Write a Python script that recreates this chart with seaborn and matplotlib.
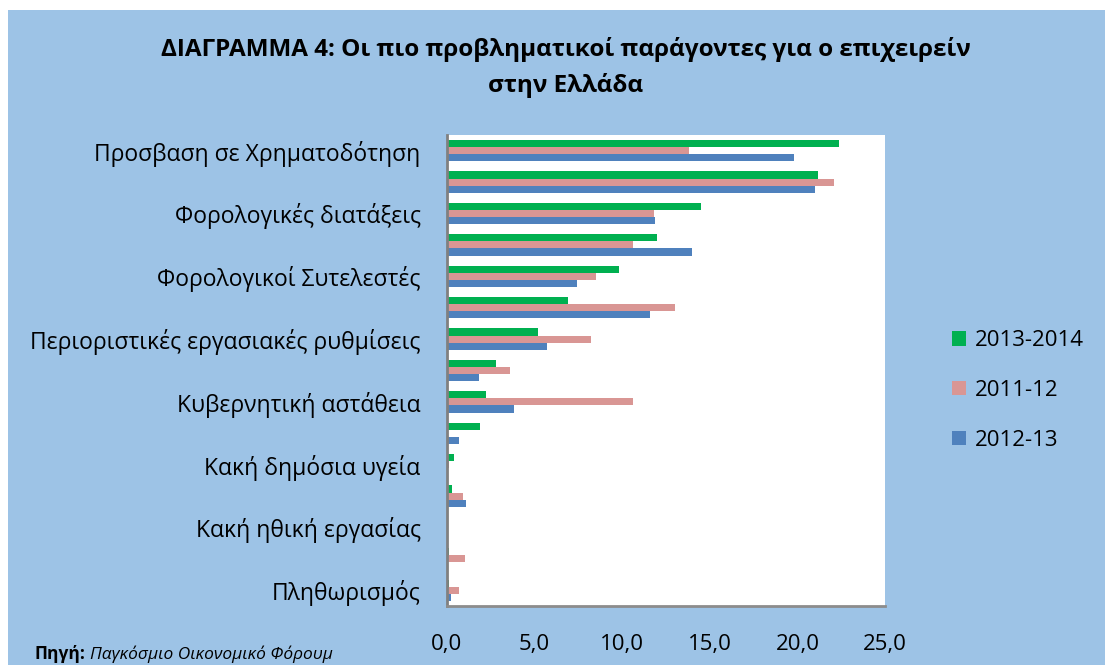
import pandas as pd
import matplotlib.pyplot as plt
import seaborn as sns
from matplotlib.patches import Rectangle

# 15 factors in the chart, only every other one has a label
factor_labels = [
    "Προσβαση σε Χρηματοδότηση",
    "Φορολογικές διατάξεις",
    "Φορολογικοί Συτελεστές",
    "Περιοριστικές εργασιακές ρυθμίσεις",
    "Κυβερνητική αστάθεια",
    "Κακή δημόσια υγεία",
    "Κακή ηθική εργασίας",
    "Πληθωρισμός",
]
factor_ids = list(range(15))

seasons = ["2013-2014", "2011-12", "2012-13"]
values_2013_14 = [22.4, 21.2, 14.5, 12.0, 9.8, 6.9, 5.2, 2.8, 2.2, 1.9, 0.4, 0.3, 0.0, 0.1, 0.1]
values_2011_12 = [13.8, 22.1, 11.8, 10.6, 8.5, 13.0, 8.2, 3.6, 10.6, 0.0, 0.1, 0.9, 0.0, 1.0, 0.7]
values_2012_13 = [19.8, 21.0, 11.9, 14.0, 7.4, 11.6, 5.7, 1.8, 3.8, 0.7, 0.0, 1.1, 0.0, 0.0, 0.2]

colors = ["#00B050", "#D99694", "#4F81BD"]
bg = "#9DC3E6"

# long format for seaborn
rows = []
for season, vals in zip(seasons, [values_2013_14, values_2011_12, values_2012_13]):
    for f, v in zip(factor_ids, vals):
        rows.append({"factor": str(f), "season": season, "value": v})
df = pd.DataFrame(rows)

sns.set_style("white")
plt.rcParams["font.family"] = ["Open Sans", "DejaVu Sans"]
plt.rcParams["text.color"] = "black"
plt.rcParams["xtick.color"] = "black"
plt.rcParams["ytick.color"] = "black"

fig = plt.figure(figsize=(11.05, 6.65), dpi=100)
fig.patch.set_facecolor("white")
fig.patches.append(Rectangle((8 / 1105, 0), 1, 1 - 10 / 665, transform=fig.transFigure,
                             facecolor=bg, edgecolor="none", zorder=-1))

ax = fig.add_axes([447 / 1105, 1 - 606 / 665, 438 / 1105, 471 / 665])
ax.set_facecolor("white")

sns.barplot(data=df, y="factor", x="value", hue="season", hue_order=seasons,
            order=[str(f) for f in factor_ids], palette=colors, orient="h",
            width=0.68, ax=ax, errorbar=None, saturation=1, edgecolor="none")

ax.set_xlim(0, 25)
ax.set_xticks([0, 5, 10, 15, 20, 25])
ax.set_xticklabels([f"{t:.1f}".replace(".", ",") for t in [0, 5, 10, 15, 20, 25]], fontsize=16)
ax.set_yticks(factor_ids[::2])
ax.set_yticklabels(factor_labels, fontsize=16.5)
ax.tick_params(axis="x", length=0, pad=20)
ax.tick_params(axis="y", length=0, pad=19)
ax.set_xlabel("")
ax.set_ylabel("")

for side in ["top", "right"]:
    ax.spines[side].set_visible(False)
ax.spines["left"].set_color("#808080")
ax.spines["left"].set_linewidth(2)
ax.spines["bottom"].set_color("#8c8c8c")
ax.spines["bottom"].set_linewidth(2)

# legend on the right
ax.legend(loc="center left", bbox_to_anchor=(0.843, 0.413), bbox_transform=fig.transFigure,
          frameon=False, fontsize=16, handlelength=0.65, handleheight=0.65,
          handletextpad=0.4, labelspacing=1.3)

fig.text(0.512, 1 - 50 / 665, "ΔΙΑΓΡΑΜΜΑ 4: Οι πιο προβληματικοί παράγοντες για ο επιχειρείν",
         ha="center", va="center", fontsize=17.5, fontweight="bold")
fig.text(0.512, 1 - 85 / 665, "στην Ελλάδα",
         ha="center", va="center", fontsize=17.5, fontweight="bold")

# source note at the bottom edge
fig.text(35 / 1105, 2 / 665, "Πηγή:", ha="left", va="bottom", fontsize=12.5, fontweight="bold")
fig.text(90 / 1105, 2 / 665, "Παγκόσμιο Οικονομικό Φόρουμ", ha="left", va="bottom",
         fontsize=12.5, fontstyle="italic")

fig.savefig("out.png", dpi=100)
